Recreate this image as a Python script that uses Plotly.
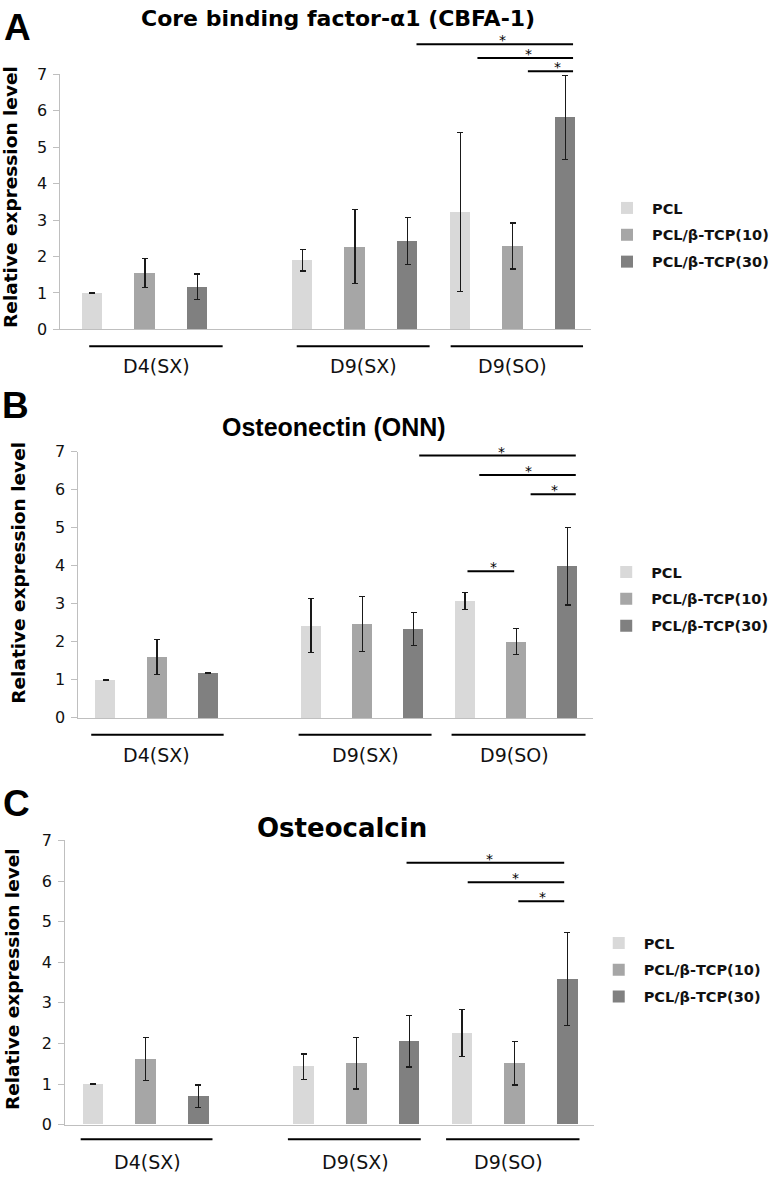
import plotly.graph_objects as go

# ---------------- data ----------------
series_names = ["PCL", "PCL/β-TCP(10)", "PCL/β-TCP(30)"]
group_labels = ["D4(SX)", "D9(SX)", "D9(SO)"]
y_ticks = [0, 1, 2, 3, 4, 5, 6, 7]
# slot index of each series' bars within the 10-slot category axis (slot 3 is empty)
series_slots = [[0, 4, 7], [1, 5, 8], [2, 6, 9]]

cbfa_title = "Core binding factor-α1 (CBFA-1)"
cbfa_pcl = [1.00, 1.90, 3.22]
cbfa_pcl_err = [0.01, 0.30, 2.17]
cbfa_t10 = [1.55, 2.27, 2.29]
cbfa_t10_err = [0.39, 1.02, 0.63]
cbfa_t30 = [1.17, 2.42, 5.81]
cbfa_t30_err = [0.35, 0.65, 1.15]

onn_title = "Osteonectin (ONN)"
onn_pcl = [1.00, 2.43, 3.07]
onn_pcl_err = [0.01, 0.71, 0.22]
onn_t10 = [1.61, 2.47, 2.01]
onn_t10_err = [0.46, 0.72, 0.35]
onn_t30 = [1.18, 2.34, 3.99]
onn_t30_err = [0.02, 0.44, 1.02]

ocn_title = "Osteocalcin"
ocn_pcl = [1.00, 1.43, 2.25]
ocn_pcl_err = [0.01, 0.31, 0.58]
ocn_t10 = [1.61, 1.51, 1.51]
ocn_t10_err = [0.53, 0.63, 0.53]
ocn_t30 = [0.70, 2.05, 3.59]
ocn_t30_err = [0.28, 0.63, 1.14]

# significance brackets: (from slot, to slot, height, star position)
cbfa_sig = [(6.17, 9.15, 7.82, 7.80), (7.33, 9.15, 7.44, 8.30), (8.29, 9.15, 7.08, 8.85)]
onn_sig = [(6.11, 9.16, 6.90, 7.72), (7.28, 9.16, 6.39, 8.23), (8.28, 9.16, 5.88, 8.75),
           (7.05, 7.96, 3.86, 7.56)]
ocn_sig = [(5.95, 8.94, 6.45, 7.53), (7.11, 8.94, 5.97, 8.02), (8.07, 8.94, 5.50, 8.53)]

# group underline spans (slots) and label centres
cbfa_groups = [(-0.06, 2.48, 1.23), (3.89, 6.42, 5.16), (6.82, 9.34, 8.0)]
onn_groups = [(-0.28, 2.30, 1.0), (3.76, 6.35, 5.06), (6.74, 9.35, 7.97)]
ocn_groups = [(-0.23, 2.27, 1.03), (3.70, 6.22, 4.99), (6.70, 9.23, 7.88)]

# ---------------- styling / layout constants ----------------
W, H = 774, 1179
colors = ["#d9d9d9", "#a6a6a6", "#808080"]
axis_grey = "#bfbfbf"
YMAX = 7

panels = [
    dict(letter="A", title=cbfa_title, vals=[cbfa_pcl, cbfa_t10, cbfa_t30],
         errs=[cbfa_pcl_err, cbfa_t10_err, cbfa_t30_err], sig=cbfa_sig, groups=cbfa_groups,
         px=(60.4, 592.2, 66.2, 325.7), xr=(-0.61, 9.5),
         letter_pos=(17.5, 18.5), title_pos=(338.7, 10), title_font=("DejaVu Sans", 22),
         ytitle_pos=(11, 191), legend_pos=(603, 186),
         line_y=-0.46, label_y=-1.0),
    dict(letter="B", title=onn_title, vals=[onn_pcl, onn_t10, onn_t30],
         errs=[onn_pcl_err, onn_t10_err, onn_t30_err], sig=onn_sig, groups=onn_groups,
         px=(78.5, 594.0, 450.0, 720.5), xr=(-0.53, 9.5),
         letter_pos=(16, 403.5), title_pos=(334.3, 425), title_font=("Liberation Sans", 25),
         ytitle_pos=(19, 573), legend_pos=(602, 556),
         line_y=-0.445, label_y=-0.98),
    dict(letter="C", title=ocn_title, vals=[ocn_pcl, ocn_t10, ocn_t30],
         errs=[ocn_pcl_err, ocn_t10_err, ocn_t30_err], sig=ocn_sig, groups=ocn_groups,
         px=(65.1, 594.5, 845.0, 1134.0), xr=(-0.527, 9.5),
         letter_pos=(17, 807.5), title_pos=(342, 832), title_font=("DejaVu Sans", 26),
         ytitle_pos=(12.5, 985.5), legend_pos=(594.5, 933),
         line_y=-0.36, label_y=-0.91),
]

fig = go.Figure()
layout = dict(width=W, height=H, margin=dict(l=0, r=0, t=0, b=0),
              paper_bgcolor="white", plot_bgcolor="white", bargap=0,
              barmode="overlay", showlegend=True)
shapes, annotations = [], []

for pi, p in enumerate(panels):
    sfx = "" if pi == 0 else str(pi + 1)
    xa, ya = "x" + sfx, "y" + sfx
    lg = "legend" + sfx
    left, right, top, bottom = p["px"]
    layout["xaxis" + sfx] = dict(domain=[left / W, right / W], range=list(p["xr"]),
                                 anchor=ya, showticklabels=False, ticks="",
                                 showgrid=False, zeroline=False, showline=True,
                                 linecolor=axis_grey, linewidth=1)
    layout["yaxis" + sfx] = dict(domain=[1 - bottom / H, 1 - top / H], range=[0, YMAX],
                                 anchor=xa, tickvals=y_ticks, ticks="outside", ticklen=6,
                                 tickcolor=axis_grey, showgrid=False, zeroline=False,
                                 showline=True, linecolor=axis_grey, linewidth=1,
                                 ticklabelstandoff=3,
                                 tickfont=dict(family="DejaVu Sans", size=16, color="#111"))
    lx, ly = p["legend_pos"]
    layout[lg] = dict(x=lx / W, y=1 - ly / H, xanchor="left", yanchor="top",
                      bgcolor="rgba(0,0,0,0)", tracegroupgap=5, itemwidth=40,
                      font=dict(family="DejaVu Sans", size=14.5, color="#111", weight="bold"))

    for si, name in enumerate(series_names):
        fig.add_trace(go.Bar(
            x=series_slots[si], y=p["vals"][si], name=name, width=0.39,
            marker=dict(color=colors[si], line=dict(width=0)),
            error_y=dict(type="data", array=p["errs"][si], color="#1a1a1a",
                         thickness=1.2, width=3),
            xaxis=xa, yaxis=ya, legend=lg, legendgroup=f"{p['letter']}{si}",
        ))

    # significance brackets and stars
    for x0, x1, yv, xs in p["sig"]:
        shapes.append(dict(type="line", xref=xa, yref=ya + " domain", x0=x0, x1=x1,
                           y0=yv / YMAX, y1=yv / YMAX, line=dict(color="black", width=2)))
        annotations.append(dict(xref=xa, yref=ya + " domain", x=xs, y=yv / YMAX, text="*",
                                showarrow=False, yanchor="middle", yshift=4,
                                font=dict(family="DejaVu Sans", size=14, color="black")))
    # group underlines and labels
    for (g0, g1, gc), lab in zip(p["groups"], group_labels):
        shapes.append(dict(type="line", xref=xa, yref=ya + " domain", x0=g0, x1=g1,
                           y0=p["line_y"] / YMAX, y1=p["line_y"] / YMAX,
                           line=dict(color="black", width=2)))
        annotations.append(dict(xref=xa, yref=ya + " domain", x=gc, y=p["label_y"] / YMAX,
                                text=lab, showarrow=False, yanchor="middle",
                                font=dict(family="DejaVu Sans", size=19, color="#111")))
    # panel letter
    lxp, lyp = p["letter_pos"]
    annotations.append(dict(xref="paper", yref="paper", x=lxp / W, y=1 - lyp / H,
                            text=p["letter"], showarrow=False, xanchor="center",
                            yanchor="middle",
                            font=dict(family="Liberation Sans", size=37, color="black",
                                      weight="bold")))
    # panel title
    tx, ty = p["title_pos"]
    fam, fs = p["title_font"]
    annotations.append(dict(xref="paper", yref="paper", x=tx / W, y=1 - ty / H,
                            text=p["title"], showarrow=False, xanchor="center",
                            yanchor="middle",
                            font=dict(family=fam, size=fs, color="black", weight="bold")))
    # y axis title
    yx, yy = p["ytitle_pos"]
    annotations.append(dict(xref="paper", yref="paper", x=yx / W, y=1 - yy / H,
                            text="Relative expression level", showarrow=False,
                            textangle=-90, xanchor="center", yanchor="middle",
                            font=dict(family="DejaVu Sans", size=18.5, color="black",
                                      weight="bold")))

layout["shapes"] = shapes
layout["annotations"] = annotations
fig.update_layout(**layout)
fig.write_html("out.html", config={"displayModeBar": False},
               post_script="document.body.style.margin='0px';document.body.style.padding='0px';")
